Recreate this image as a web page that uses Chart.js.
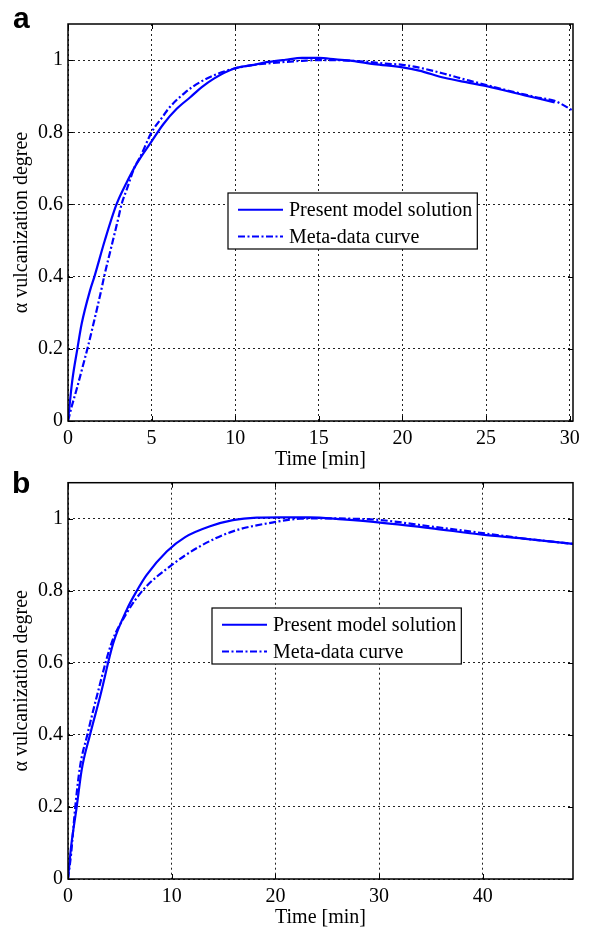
<!DOCTYPE html>
<html><head><meta charset="utf-8">
<script src="https://cdn.jsdelivr.net/npm/chart.js@4/dist/chart.umd.min.js"></script>
<style>
html,body{margin:0;padding:0;background:#fff;width:593px;height:929px;overflow:hidden;position:relative}
canvas{position:absolute;left:0}
</style></head><body>
<canvas id="ca" width="593" height="476" style="top:0"></canvas>
<canvas id="cb" width="593" height="472" style="top:460px"></canvas>
<script>
// ---------- data ----------
const seriesNames = ["Present model solution", "Meta-data curve"];
const yTicks = [0, 0.2, 0.4, 0.6, 0.8, 1];
const xTicksA = [0, 5, 10, 15, 20, 25, 30];
const xTicksB = [0, 10, 20, 30, 40];

// panel a
const aModelT = [0, 0.25, 0.56, 0.82, 1.32, 1.58, 2.2, 2.9, 3.5, 4.11, 5, 5.71, 6.5, 7.31, 8, 8.7, 9.9, 11, 12, 13, 14, 15, 16, 17, 18.3, 20, 21, 22.5, 24, 25.1, 26, 27, 28, 29.1];
const aModelV = [0, 0.11, 0.2, 0.27, 0.362, 0.4, 0.5, 0.6, 0.66, 0.713, 0.775, 0.823, 0.865, 0.897, 0.925, 0.948, 0.976, 0.986, 0.995, 1.001, 1.006, 1.006, 1.002, 0.998, 0.989, 0.98, 0.971, 0.951, 0.937, 0.927, 0.917, 0.906, 0.895, 0.883];
const aMetaT = [0, 0.22, 0.5, 1, 1.16, 1.5, 2, 2.16, 2.5, 3, 3.2, 3.5, 4, 4.31, 5, 5.71, 6, 7, 7.9, 9, 9.9, 11, 12, 13, 14, 15, 16, 17, 18, 19, 20, 21, 22.5, 24, 25.1, 26, 27, 28, 29.1, 30.2];
const aMetaV = [0, 0.04, 0.085, 0.172, 0.2, 0.265, 0.365, 0.4, 0.465, 0.56, 0.6, 0.64, 0.705, 0.731, 0.8, 0.846, 0.865, 0.91, 0.939, 0.963, 0.976, 0.986, 0.991, 0.995, 0.998, 1.0, 1.0, 0.998, 0.995, 0.99, 0.987, 0.979, 0.962, 0.943, 0.93, 0.919, 0.908, 0.897, 0.887, 0.86];

// panel b
const bModelT = [0, 0.3, 0.84, 1.32, 2.12, 3.09, 4.37, 5.66, 6.6, 7.59, 9.52, 11.3, 13.7, 15.9, 18.2, 20.5, 23.3, 26.5, 29.9, 34.9, 39.95, 43.9, 48.7];
const bModelV = [0, 0.09, 0.2, 0.303, 0.4, 0.506, 0.655, 0.747, 0.798, 0.844, 0.909, 0.949, 0.979, 0.996, 1.003, 1.004, 1.004, 0.998, 0.99, 0.974, 0.956, 0.945, 0.93];
const bMetaT = [0, 0.3, 0.7, 1.16, 1.86, 2.77, 4.2, 5.66, 7.26, 9.84, 12.7, 15.9, 19.8, 22.4, 25, 27.5, 29.9, 34.9, 40, 44, 48.7];
const bMetaV = [0, 0.07, 0.2, 0.312, 0.4, 0.506, 0.655, 0.738, 0.803, 0.868, 0.923, 0.965, 0.99, 1.0, 1.001, 1.0, 0.997, 0.979, 0.96, 0.945, 0.93];

// ---------- drawing ----------
const SERIF = '"Liberation Serif", "Times New Roman", serif';
const FS = 20;
const BLUE = '#0000ff';
const DASHDOT = [7, 2.5, 2, 2.5];
const GRIDDASH = [2, 3];

function pts(t, v) { return t.map((x, i) => ({x, y: v[i]})); }

const framePlugin = {
  id: 'frame',
  afterDraw(chart, args, o) {
    const {ctx, chartArea: a, scales: {x, y}} = chart;
    ctx.save();
    // inward tick marks
    ctx.strokeStyle = '#000'; ctx.lineWidth = 1; ctx.setLineDash([]);
    ctx.beginPath();
    x.ticks.forEach(t => { const px = Math.round(x.getPixelForValue(t.value)) + 0.5;
      ctx.moveTo(px, a.bottom); ctx.lineTo(px, a.bottom - 5);
      ctx.moveTo(px, a.top); ctx.lineTo(px, a.top + 5); });
    y.ticks.forEach(t => { const py = Math.round(y.getPixelForValue(t.value)) + 0.5;
      ctx.moveTo(a.left, py); ctx.lineTo(a.left + 5, py);
      ctx.moveTo(a.right, py); ctx.lineTo(a.right - 5, py); });
    ctx.stroke();
    // box
    ctx.lineWidth = 1.5;
    ctx.strokeRect(a.left, a.top, a.right - a.left, a.bottom - a.top);
    // legend
    ctx.font = FS + 'px ' + SERIF;
    const labels = chart.data.datasets.map(d => d.label);
    const tw = Math.max(...labels.map(l => ctx.measureText(l).width));
    const lx = o.legendX, ly = o.legendY, lw = 61 + tw + 5, lh = 56;
    ctx.fillStyle = '#fff';
    ctx.fillRect(lx, ly, lw, lh);
    ctx.lineWidth = 1.2; ctx.strokeStyle = '#000';
    ctx.strokeRect(lx, ly, lw, lh);
    chart.data.datasets.forEach((d, i) => {
      const ry = ly + 16.7 + i * 26.7;
      ctx.strokeStyle = d.borderColor; ctx.lineWidth = 2;
      ctx.setLineDash(d.borderDash || []);
      ctx.beginPath(); ctx.moveTo(lx + 10, ry); ctx.lineTo(lx + 55, ry); ctx.stroke();
      ctx.setLineDash([]);
      ctx.fillStyle = '#000'; ctx.textBaseline = 'middle'; ctx.textAlign = 'left';
      ctx.fillText(d.label, lx + 61, ry + 1);
    });
    // panel letter
    ctx.font = 'bold 30px "Liberation Sans", Arial, sans-serif';
    ctx.fillStyle = '#000'; ctx.textBaseline = 'alphabetic';
    ctx.fillText(o.letter, o.letterX, o.letterY);
    ctx.restore();
  }
};

function makeChart(id, mT, mV, dT, dV, xTicks, xMax, padTop, xAxisH, titlePad, frameOpts) {
  return new Chart(document.getElementById(id), {
    type: 'line',
    data: {
      datasets: [
        {label: seriesNames[0], data: pts(mT, mV), borderColor: BLUE, borderWidth: 2.2, pointRadius: 0, cubicInterpolationMode: 'monotone', fill: false},
        {label: seriesNames[1], data: pts(dT, dV), borderColor: BLUE, borderWidth: 2.2, borderDash: DASHDOT, pointRadius: 0, cubicInterpolationMode: 'monotone', fill: false}
      ]
    },
    options: {
      responsive: false, animation: false, devicePixelRatio: 1,
      layout: {padding: {left: 0, top: padTop, right: 20, bottom: 0}},
      plugins: {legend: {display: false}, tooltip: {enabled: false}, frame: frameOpts},
      scales: {
        x: {
          type: 'linear', min: 0, max: xMax,
          afterBuildTicks: s => { s.ticks = xTicks.map(v => ({value: v})); },
          afterFit: s => { s.height = xAxisH; },
          grid: {color: '#222', lineWidth: 1, drawTicks: false},
          border: {display: false, dash: GRIDDASH},
          ticks: {color: '#000', padding: 6, maxRotation: 0, font: {family: SERIF, size: FS}, callback: v => String(v)},
          title: {display: true, text: 'Time [min]', color: '#000', font: {family: SERIF, size: FS}, padding: {top: 0, bottom: titlePad}}
        },
        y: {
          type: 'linear', min: 0, max: 1.1,
          afterBuildTicks: s => { s.ticks = yTicks.map(v => ({value: v})); },
          afterFit: s => { s.width = 68; },
          grid: {color: '#222', lineWidth: 1, drawTicks: false},
          border: {display: false, dash: GRIDDASH},
          ticks: {color: '#000', padding: 5, font: {family: SERIF, size: FS}, callback: v => String(v)},
          title: {display: true, text: 'α vulcanization degree', color: '#000', font: {family: SERIF, size: FS}, padding: {top: 10, bottom: 0}}
        }
      }
    },
    plugins: [framePlugin]
  });
}

makeChart('ca', aModelT, aModelV, aMetaT, aMetaV, xTicksA, 30.2, 24, 55, 4,
  {legendX: 228, legendY: 193, letter: 'a', letterX: 13, letterY: 28});
makeChart('cb', bModelT, bModelV, bMetaT, bMetaV, xTicksB, 48.7, 22.7, 53, 2,
  {legendX: 212, legendY: 148, letter: 'b', letterX: 12, letterY: 33});
</script>
</body></html>
